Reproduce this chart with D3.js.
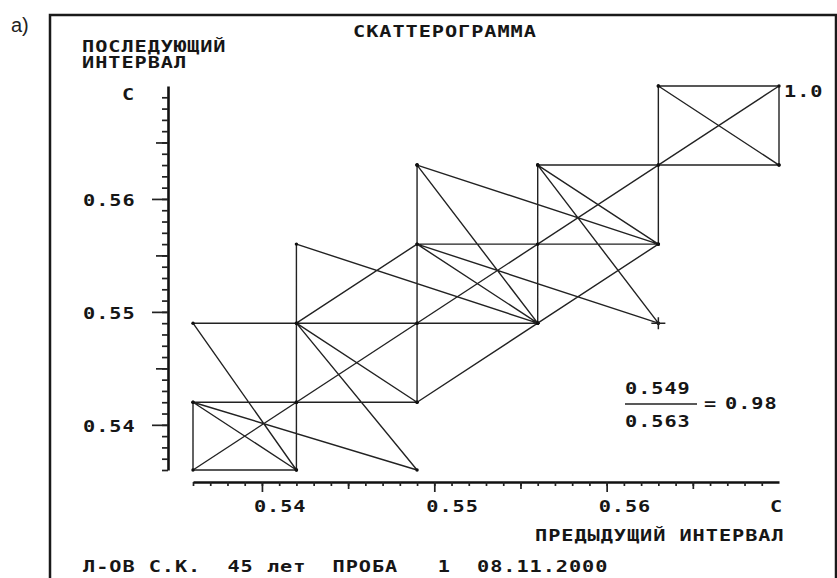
<!DOCTYPE html>
<html>
<head>
<meta charset="utf-8">
<script src="https://cdn.jsdelivr.net/npm/d3@7"></script>
<style>
  body { margin: 0; background: #fff; }
  svg { display: block; }
  .dos { font-family: "DejaVu Sans Mono", monospace; font-weight: bold; font-size: 15px; fill: #161616; white-space: pre; }
</style>
</head>
<body>
<div class="canvas"></div>
<script>
// R-R intervals (s), in the order they came
const rr = [0.542,0.542,0.536,0.536,0.542,0.536,0.549,0.549,0.542,0.542,
            0.556,0.549,0.542,0.549,0.536,0.542,0.542,0.549,0.556,0.549,
            0.549,0.563,0.556,0.556,0.563,0.563,0.570,0.570,0.563,0.570,
            0.563,0.563,0.556,0.549,0.563,0.556,0.563,0.549,0.556,0.556,
            0.549,0.563,0.556,0.563,0.549];
const tickLabels = [0.54, 0.55, 0.56];
const mediumTicks = [0.545, 0.555, 0.565];
const minorTicks = d3.range(536, 570).map(d => d / 1000);

const title = 'СКАТТЕРОГРАММА';
const yTitle = ['ПОСЛЕДУЮЩИЙ', 'ИНТЕРВАЛ'];
const xTitle = 'ПРЕДЫДУЩИЙ ИНТЕРВАЛ';
const unit = 'С';
const footer = 'Л-ОВ С.К.  45 лет  ПРОБА   1  08.11.2000';

const dims = { width: 837, height: 578 };

const svg = d3.select('.canvas')
  .append('svg')
  .attr('width', dims.width)
  .attr('height', dims.height);

const x = d3.scaleLinear().domain(d3.extent(rr)).range([193, 779]);
const y = d3.scaleLinear().domain(d3.extent(rr)).range([470, 86]);

// dos style text, fixed cell width (~13px)
const dos = (x0, y0, str) => svg.append('text')
  .attr('class', 'dos')
  .attr('transform', `translate(${x0},${y0}) scale(1.35,1)`)
  .attr('letter-spacing', 0.71)
  .text(str);

// frame
svg.append('rect')
  .attr('x', 50).attr('y', 15)
  .attr('width', 786).attr('height', 600)
  .attr('fill', 'none')
  .attr('stroke', '#1a1a1a')
  .attr('stroke-width', 2.5);

svg.append('text')
  .attr('x', 11).attr('y', 32)
  .attr('font-family', 'Liberation Sans, Arial, sans-serif')
  .attr('font-size', 20)
  .attr('fill', '#222')
  .text('a)');

// y axis
const yAxis = svg.append('g').attr('transform', 'translate(168,0)');
yAxis.append('g')
  .call(d3.axisLeft(y).tickValues(minorTicks).tickSize(6).tickSizeOuter(0).tickFormat(''));
yAxis.append('g')
  .call(d3.axisLeft(y).tickValues(mediumTicks).tickSize(12).tickFormat(''))
  .select('.domain').remove();
yAxis.append('g')
  .call(d3.axisLeft(y).tickValues(tickLabels).tickSize(16).tickFormat(''))
  .select('.domain').remove();

// x axis
const xAxis = svg.append('g').attr('transform', 'translate(0,482)');
xAxis.append('g')
  .call(d3.axisBottom(x).tickValues(minorTicks).tickSize(4).tickSizeOuter(0).tickFormat(''));
xAxis.append('g')
  .call(d3.axisBottom(x).tickValues(mediumTicks).tickSize(7).tickFormat(''))
  .select('.domain').remove();
xAxis.append('g')
  .call(d3.axisBottom(x).tickValues(tickLabels).tickSize(10).tickFormat(''))
  .select('.domain').remove();

svg.selectAll('.domain').attr('stroke', '#111').attr('stroke-width', 2.6);
svg.selectAll('.tick line').attr('stroke', '#222').attr('stroke-width', 1.7);

// labels
dos(353, 37, title);
dos(82, 52, yTitle[0]);
dos(82, 68, yTitle[1]);
dos(122, 100, unit);
tickLabels.forEach(v => dos(83, y(v) + 7, v.toFixed(2)));
tickLabels.forEach(v => dos(x(v) - 8, 512, v.toFixed(2)));
dos(770, 512, unit);
dos(535, 541, xTitle);
dos(83, 572, footer);

// bisector
const ext = d3.extent(rr);
svg.append('line')
  .attr('x1', x(ext[0])).attr('y1', y(ext[0]))
  .attr('x2', x(ext[1])).attr('y2', y(ext[1]))
  .attr('stroke', '#222')
  .attr('stroke-width', 1.4);
dos(x(ext[1]) + 5, y(ext[1]) + 11, '1.0');

// scatterogram: (RRn, RRn+1) joined in order
const pts = d3.pairs(rr);
const line = d3.line().x(d => x(d[0])).y(d => y(d[1]));

svg.append('path')
  .attr('d', line(pts))
  .attr('fill', 'none')
  .attr('stroke', '#222')
  .attr('stroke-width', 1.4)
  .attr('stroke-linejoin', 'round');

svg.selectAll('circle.pt')
  .data(pts)
  .enter().append('circle')
  .attr('class', 'pt')
  .attr('cx', d => x(d[0]))
  .attr('cy', d => y(d[1]))
  .attr('r', 1.7)
  .attr('fill', '#111');

// last point marked with a cross
const last = pts[pts.length - 1];
const cx = x(last[0]), cy = y(last[1]);
svg.append('path')
  .attr('d', `M${cx - 7},${cy}H${cx + 7}M${cx},${cy - 6}V${cy + 6}`)
  .attr('stroke', '#222')
  .attr('stroke-width', 1.5);

// ratio of the last point
dos(625, 394, last[1].toFixed(3));
svg.append('line')
  .attr('x1', 625).attr('x2', 697)
  .attr('y1', 404).attr('y2', 404)
  .attr('stroke', '#222').attr('stroke-width', 1.6);
dos(625, 427, last[0].toFixed(3));
dos(704, 409, '=');
dos(725, 409, (last[1] / last[0]).toFixed(2));
</script>
</body>
</html>
